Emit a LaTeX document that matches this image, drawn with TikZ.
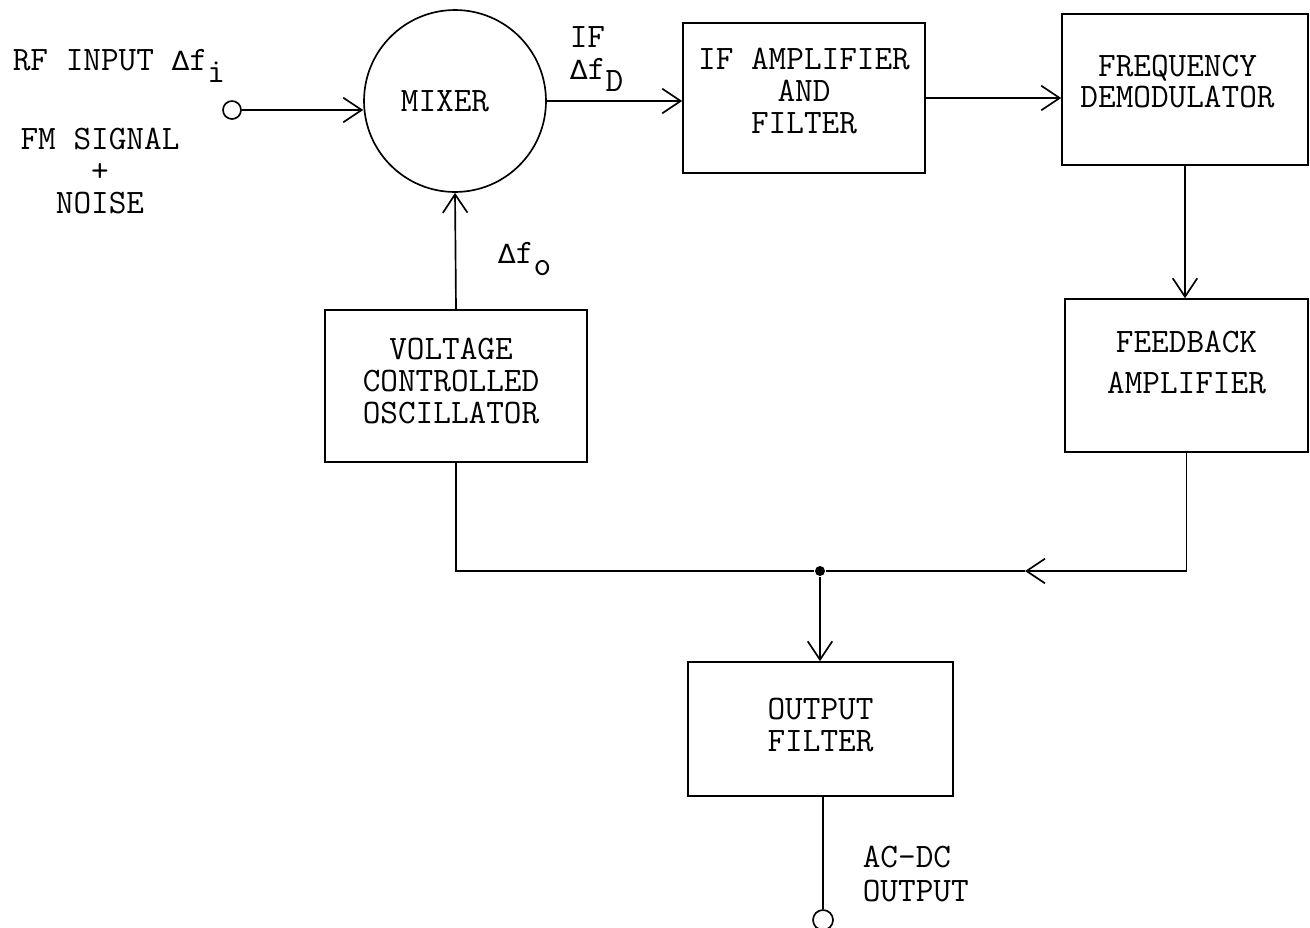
\documentclass[tikz,border=0pt]{standalone}
\usepackage{fontspec}
\newfontfamily\deltafont{DejaVu Sans}
\usetikzlibrary{arrows.meta,positioning}
\newcommand{\lowidx}[1]{\raisebox{-0.36em}{#1}}
\newcommand{\dlt}{{\deltafont\fontsize{15}{15}\selectfont Δ}}

\begin{document}
\begin{tikzpicture}[
    x=0.02cm,
    y=-0.02cm,
    font=\ttfamily\fontsize{19.5}{18.1}\selectfont\addfontfeature{FakeBold=0.6},
    line width=0.95pt,
    >={Straight Barb[length=10.5pt,width=14pt]},
    blok/.style={draw,inner sep=0pt},
    texto/.style={align=center,inner sep=0pt},
    conn/.style={->},
    lbl/.style={align=left,inner sep=0pt},
    term/.style={draw,circle,inner sep=0pt,fill=white},
    punto/.style={circle,fill=black,minimum size=0.2cm,inner sep=0pt}
]
    \useasboundingbox (0,0) rectangle (1310,927);

    % Bloques
    \node[blok,circle,minimum size=3.64cm] (mix) at (455,101) {};
    \node[blok,minimum width=4.84cm,minimum height=3.00cm] (ifa) at (804,98) {};
    \node[blok,minimum width=4.92cm,minimum height=3.02cm] (dem) at (1185,89.5) {};
    \node[blok,minimum width=4.86cm,minimum height=3.06cm] (fb) at (1186.5,375.5) {};
    \node[blok,minimum width=5.24cm,minimum height=3.04cm] (vco) at (456,386) {};
    \node[blok,minimum width=5.30cm,minimum height=2.68cm] (of) at (820.5,729) {};

    % Textos de los bloques
    \node[texto] (mix-t) at ([xshift=-0.2cm]mix) {MIXER};
    \node[texto] (ifa-t) at ([yshift=0.14cm]ifa) {IF AMPLIFIER\\AND\\FILTER};
    \node[texto] (dem-t) at ([xshift=-0.15cm,yshift=0.16cm]dem) {FREQUENCY\\DEMODULATOR};
    \node[texto,font=\ttfamily\fontsize{19.5}{23.3}\selectfont\addfontfeature{FakeBold=0.6}]
        (fb-t) at ([yshift=0.26cm]fb) {FEEDBACK\\AMPLIFIER};
    \node[texto] (vco-t) at ([xshift=-0.1cm,yshift=0.1cm]vco) {VOLTAGE\\CONTROLLED\\OSCILLATOR};
    \node[texto] (of-t) at ([yshift=0.08cm]of) {OUTPUT\\FILTER};

    % Terminales y nudo
    \node[term,minimum size=0.36cm] (inp) at (232,110) {};
    \node[term,minimum size=0.40cm] (out) at (823,920) {};
    \node[punto] (jn) at (820,571) {};
    \coordinate (barr) at (1025,571);

    % Conexiones
    \draw[conn] (inp) -- (inp -| mix.west);
    \draw[conn] (mix.east) -- (mix.east -| ifa.west);
    \draw[conn] (ifa.east) -- (ifa.east -| dem.west);
    \draw[conn] (dem.south) -- (dem.south |- fb.north);
    \draw[conn] (vco.north) -- (mix.south);
    \draw[conn] (fb.south) |- (barr);
    \draw (barr) -- (jn);
    \draw (vco.south) |- (jn);
    \draw[conn] (jn) -- (jn |- of.north);
    \draw (of.south -| out) -- (out);

    % Rotulos
    \node[lbl,anchor=base west] (rflab) at (12,70) {RF INPUT \dlt f\lowidx{i}};
    \node[lbl,align=center] (fmlab) at (100,171) {FM SIGNAL\\+\\NOISE};
    \node[lbl,anchor=base west] (iflab) at (569,47) {IF};
    \node[lbl,anchor=base west] (fdlab) at (569,79) {\dlt f\lowidx{D}};
    \node[lbl,anchor=base west] (folab) at (497,263) {\dlt f\lowidx{o}};
    \node[lbl,anchor=base west] (acdc) at (862,867) {AC-DC};
    \node[lbl,anchor=base west] (outlab) at (862,901) {OUTPUT};
\end{tikzpicture}
\end{document}
